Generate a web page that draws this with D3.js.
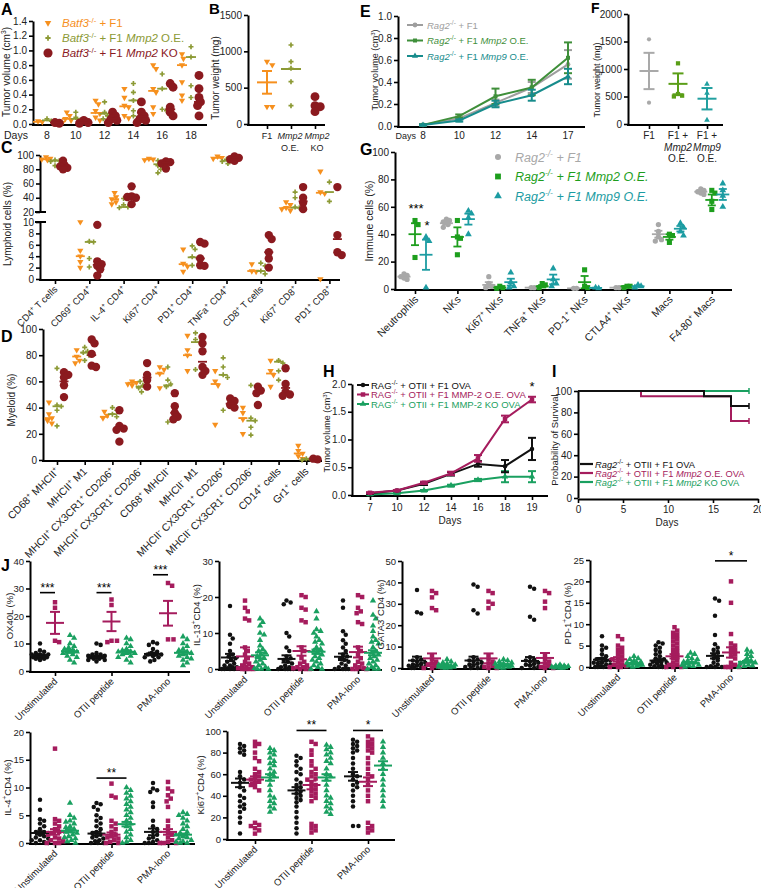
<!DOCTYPE html>
<html><head><meta charset="utf-8">
<script src="https://cdn.jsdelivr.net/npm/d3@7"></script>
<style>body{margin:0;background:#fff;}svg{display:block;}</style>
</head><body><script>
// ================= DATA =================
// Panel A
const A_days = [8,10,12,14,16,18];
const A_legend = ["<i>Batf3</i><sup>-/-</sup> + F1","<i>Batf3</i><sup>-/-</sup> + F1 <i>Mmp2</i> O.E.","<i>Batf3</i><sup>-/-</sup> + F1 <i>Mmp2</i> KO"];
const A_f1 = [[0.04,0.03],[0.16,0.11,0.07,0.05,0.02],[0.32,0.27,0.18,0.14,0.09,0.05],[0.48,0.36,0.25,0.23,0.11,0.08],[0.8,0.75,0.48,0.43,0.23,0.14],[0.95,0.89,0.8,0.57,0.39,0.32]];
const A_oe = [[0.07,0.04],[0.16,0.09,0.05],[0.3,0.16,0.11,0.07],[0.55,0.43,0.32,0.18,0.11],[0.68,0.48,0.2,0.18],[1.05,0.91,0.52,0.36]];
const A_ko = [[0.02,0.01],[0.05,0.02,0.01],[0.16,0.11,0.07,0.05,0.02],[0.3,0.16,0.11,0.07,0.05,0.02],[0.55,0.5,0.23,0.16,0.11],[0.66,0.48,0.36,0.3,0.25,0.11]];
const A_f1_mean = [0.03,0.07,0.15,0.24,0.45,0.8];
const A_oe_mean = [0.05,0.07,0.14,0.32,0.48,0.91];
const A_ko_mean = [0.02,0.02,0.07,0.1,0.2,0.3];
// Panel B
const B_cats = [["F1"],["<i>Mmp2</i>","O.E."],["<i>Mmp2</i>","KO"]];
const B_f1 = [858,812,238,238];
const B_oe = [1087,858,766,583,252];
const B_ko = [376,252,238,170];
const B_mean = [573,757,null];
const B_sem = [156,null,null];
// Panel C
const C_cats = ["CD4<sup>+</sup> T cells","CD69<sup>+</sup> CD4<sup>+</sup>","IL-4<sup>+</sup> CD4<sup>+</sup>","Ki67<sup>+</sup> CD4<sup>+</sup>","PD1<sup>+</sup> CD4<sup>+</sup>","TNFa<sup>+</sup> CD4<sup>+</sup>","CD8<sup>+</sup> T cells","Ki67<sup>+</sup> CD8<sup>+</sup>","PD1<sup>+</sup> CD8<sup>+</sup>"];
const C_f1 = [[97,95,94,93],[10,5,4,3,2],[47,41,38,34,31],[95,94,93],[5.2,2.7,2.2,1.3],[98,96,95],[2.6,1.4,1.3],[34,30,26,24,22],[77,48,46,0]];
const C_oe = [[93,92,91,85],[6.6,6.5,3.6,2.1],[39,30,27,26],[92,88,85,80,75],[5.8,5.2,3.9,2.4],[94,93,91,88],[2.8,2.3,1.4,0.9],[48,40,27,26],[62,35]];
const C_ko = [[92,86,84,82,80],[9.5,3.1,2.6,2.3,1.7,0.6],[56,42,41,40,31],[91,90,88,81],[6.5,6.2,3.6,2.4,2.3],[98,96,94,92],[7.7,7.0,4.7,3.6,2.0],[55,40,33,24],[55,7.7,4.7,4.2]];
const C_f1_mean = [94,4,38,94,2.6,96,1.4,26,47];
const C_oe_mean = [92,6.5,27,87,3.8,92,1.4,26,48];
const C_ko_mean = [83,2.5,41,89,3.6,94,4.7,35,7];
// Panel D
const D_cats = ["CD68<sup>+</sup> MHCII<sup>+</sup>","MHCII<sup>+</sup> M1","MHCII<sup>+</sup> CX3CR1<sup>+</sup> CD206<sup>+</sup>","MHCII<sup>+</sup> CX3CR1<sup>+</sup> CD206<sup>-</sup>","CD68<sup>+</sup> MHCII<sup>-</sup>","MHCII<sup>-</sup> M1","MHCII<sup>-</sup> CX3CR1<sup>+</sup> CD206<sup>+</sup>","MHCII<sup>-</sup> CX3CR1<sup>+</sup> CD206<sup>-</sup>","CD14<sup>+</sup> cells","Gr1<sup>+</sup> cells"];
const D_f1 = [[44,35,32,30,28],[84,79,76,74],[37,34,32],[60,59,58,57],[71,69,66,55],[95,84,80,68],[68,60,57,27],[40,36,31,20],[76,68,65,56],[11,7,5,3,1]];
const D_oe = [[70,42,41,38,26],[86,83,82,80,76],[40,38,35,33],[60,57,55,52],[71,61,58,56,29],[97,92,90,69],[78,71,65,63,38],[57,32,30,25,19],[76,74,68,61],[1,0.5,0]];
const D_ko = [[67,65,63,57,48],[92,89,81,72,71],[38,26,24,23,14],[74,65,61,56],[51,41,36,33,31],[94,89,83,71,68,65],[47,45,42,40],[56,53,51,42],[70,58,52,50,49],[1,0.5]];
const D_f1_mean = [32,79,33,59,66,80,58,32,66,5];
const D_oe_mean = [41,82,35,56,57,90,65,30,75,0.5];
const D_ko_mean = [60,80,25,63,36,75,43,52,55,1];
// Panel E
const E_days = [8,10,12,14,17];
const E_legend = ["<i>Rag2</i><sup>-/-</sup> + F1","<i>Rag2</i><sup>-/-</sup> + F1 <i>Mmp2</i> O.E.","<i>Rag2</i><sup>-/-</sup> + F1 <i>Mmp9</i> O.E."];
const E_f1 = [0.01,0.07,0.21,0.35,0.56];
const E_mmp2 = [0.01,0.09,0.27,0.35,0.62];
const E_mmp9 = [0.01,0.05,0.2,0.28,0.45];
const E_f1_sem = [0.005,0.01,0.03,0.05,0.13];
const E_mmp2_sem = [0.005,0.015,0.07,0.07,0.14];
const E_mmp9_sem = [0.005,0.01,0.03,0.05,0.07];
// Panel F
const F_cats = [["F1"],["F1 +","<i>Mmp2</i>","O.E."],["F1 +","<i>Mmp9</i>","O.E."]];
const F_f1 = [1539,388];
const F_mmp2 = [1103,545,515,500];
const F_mmp9 = [727,560,73];
const F_mean = [964,730,460];
const F_sem = [330,190,195];
// Panel G
const G_cats = ["Neutrophils","NKs","Ki67<sup>+</sup> NKs","TNFa<sup>+</sup> NKs","PD-1<sup>+</sup> NKs","CTLA4<sup>+</sup> NKs","Macs","F4-80<sup>+</sup> Macs"];
const G_legend = ["<i>Rag2<sup>-/-</sup> + F1</i>","<i>Rag2<sup>-/-</sup> + F1 Mmp2 O.E.</i>","<i>Rag2<sup>-/-</sup> + F1 Mmp9 O.E.</i>"];
const G_f1 = [[11,10,9,8,7],[51,50,49,47,45],[9,4,2,1],[1,1],[0.5,0.5],[1,1],[47,42,38,36,35],[73,72,71,70,69]];
const G_mmp2 = [[50,47,23],[50,38,37,25],[2,1,0.5],[4,3,1],[14,2,1],[2,2,1],[40,39,34],[72,70,64,58]];
const G_mmp9 = [[38,35,1],[57,55,52,40],[12,5,2,1],[15,7,4,2],[1,0.5],[3,2,1],[48,45,42,39],[77,72,68,60]];
const G_f1_mean = [9,48,3,1,0.5,1,40,71];
const G_mmp2_mean = [40,38,1,2,5,2,38,65];
const G_mmp9_mean = [25,51,5,7,0.8,2,44,69];
const G_f1_sem = [0.8,1,2,0,0,0,2.5,0.8];
const G_mmp2_sem = [8,7,0.4,0.9,4.5,0.3,2,4];
const G_mmp9_sem = [11,4,2.5,3.5,0.2,0.5,2,4];
// Panel H
const H_days = [7,10,12,14,16,18,19];
const H_legend = ["RAG<sup>-/-</sup> + OTII + F1 OVA","RAG<sup>-/-</sup> + OTII + F1 MMP-2 O.E. OVA","RAG<sup>-/-</sup> + OTII + F1 MMP-2 KO OVA"];
const H_ctrl = [0.03,0.08,0.2,0.38,0.56,0.52,0.83];
const H_oe = [0.04,0.08,0.22,0.39,0.66,1.37,1.72];
const H_ko = [0.01,0.03,0.08,0.17,0.27,0.33,0.33];
const H_ctrl_sem = [0.01,0.01,0.02,0.03,0.05,0.11,0.2];
const H_oe_sem = [0.01,0.01,0.02,0.03,0.06,0.06,0.05];
const H_ko_sem = [0.005,0.005,0.01,0.015,0.02,0.1,0.1];
// Panel I
const I_legend = ["<i>Rag2</i><sup>-/-</sup> + OTII + F1 OVA","<i>Rag2</i><sup>-/-</sup> + OTII + F1 <i>Mmp2</i> O.E. OVA","<i>Rag2</i><sup>-/-</sup> + OTII + F1 <i>Mmp2</i> KO OVA"];
const I_ctrl_days = [0,14,17,19], I_ctrl = [100,95,86,86];
const I_oe_days = [0,7,17,19], I_oe = [100,95,72,72];
const I_ko_days = [0,19], I_ko = [100,100];
// Panel J
const J_cats = ["Unstimulated","OTII peptide","PMA-Iono"];
const J_OX40L_pts = [
 [[10,7.5,7,6.5,6,6,5.5,5.5,5,5,5,4.5,4.5,4,6,5],[25,23,11,10.5],[13,12,10,9,8.5,8,7.5,7,7,6.5,6,5.5,5,4,3]],
 [[10,9.5,6.5,6,5.5,5,5,5,4.5,4.5,4,4,3.5,6,5.5],[26,24,11,11,10.5],[12,11.5,10,9,8,7.5,7,7,6.5,6.5,6,5.5,5,4,3]],
 [[10.5,10,9.5,8,7,6.5,6,6,5.5,5,4,3.5,6,5],[32,31,11.5,11.5],[12.5,11.5,10,9,8,7.5,7,6.5,6,5.5,5,4.5,4,3,2]]];
const J_OX40L_mean = [[5.7,17.5,7.2],[5.2,18,7.0],[6.2,21,6.6]];
const J_OX40L_sem = [[0.4,4,0.6],[0.4,3.5,0.5],[0.5,4.5,0.6]];
const J_IL13_pts = [
 [[17.5,9.5,8.5,7,5,4,3.5,3,2.5,2,1.5,1,1,0.5,0.5,0.2,0,0,0,0],[19,17,16,14,13.5,6,5,4,3,2,1.5,1,0.5,0.5,0.2,0,0,0,0],[14,13,12,10,9.5,8,6.5,5.5,5,4.5,4,3.5,3,2.5,2,1.5,1,0.5,0.2,0,0,0]],
 [[19,18.5,18,10,9,6,5,3.5,3,2.5,2,1.5,1,0.5,0.5,0,0,0,0,0],[20.5,20,17,16.5,13.5,13,6,5,3,2,1.5,1,0.5,0.5,0.2,0,0,0],[16,14,11,10.5,10,9,8,7.5,7,6,5.5,5,4.5,4,3.5,3,2.5,2,1.5,1,0.5,0,0]],
 [[19,17,10.5,9.5,8,7,6,5,4,3.5,3,2.5,2,1.5,1,0.5,0,0,0,0],[20.5,20,17,16,15.5,13,12.5,6,5,4,3,2,1.5,1,0.5,0.2,0,0,0],[19,15,14,12,10.5,9,8,7.5,7,6,5,4.5,4,3.5,3,2.5,2,1.5,1,0.5,0,0,0]]];
const J_IL13_mean = [[3.2,3.5,3.8],[2.8,5,4.8],[3.4,4.7,4.5]];
const J_IL13_sem = [[1,2.5,0.8],[1,1.3,0.6],[0.9,1.5,0.7]];
const J_GATA3_pts = [
 [[36.5,26,25.5,5,4,3.5,3,2.5,2,1.5,1,1,0.5,0.5,0,0],[36,35,33,28,27,6,4,3,2,1.5,1,0.5,0,0],[4,3,2.5,2,1.5,1.5,1,1,1,0.5,0.5,0.5,0.2,0.2,0]],
 [[39,38,27,25.5,5,4,3.5,3,2.5,2,1.5,1,0.5,0.5,0,0],[36,35,31,30,28,6,4,3,2,1,0.5,0,0],[4,3.5,3,2.5,2,2,1.5,1.5,1,1,1,0.5,0.5,0.2,0]],
 [[38,37,24,22.5,5,4,3.5,3,2.5,2,1.5,1,0.5,0,0],[36,35,31,28,6,4,3,2,1,0.5,0,0],[1.5,1,1,0.8,0.5,0.5,0.5,0.3,0.2,0,0]]];
const J_GATA3_mean = [[3.5,4.5,1],[3.5,4.5,1.5],[3.3,4.7,0.7]];
const J_GATA3_sem = [[1.8,2.3,0.2],[1.8,2.3,0.3],[1.8,2.3,0.2]];
const J_PD1_pts = [
 [[7.2,5,4.5,4,3,2.5,2,1.8,1.5,1.5,1,1,0.8,0.5,0.5,0.2,0,0,0],[7.2,6.5,5,4.5,4,3.5,3,2.5,2,1.8,1.5,1,0.5,0.5,0.2,0,0,0],[2.5,2,1.8,1.5,1.2,1,1,0.8,0.8,0.5,0.5,0.3,0.2,0]],
 [[5.8,5.5,5,4.5,4,3.5,3,2.5,2,1.8,1.5,1.2,1,0.8,0.5,0.5,0.2,0,0,0],[9.3,8.5,8,7.5,7,6.5,6,5.5,5,4.5,4,3.5,3,2.5,2,1.5,1,0.5,0.5,0,0,0],[3.3,3,2.5,2,1.8,1.5,1.2,1,1,0.8,0.5,0.5,0.3,0.2,0]],
 [[16,15.5,12,7.5,5.3,4.5,4,3.5,3,2.5,2,1.5,1,0.5,0.2,0,0,0],[20,15,7.7,5.5,5,4.5,4,3.5,3,2.5,2,1,0.5,0,0,0,0],[4,3.5,3,2.5,2,1.5,1.2,1,0.8,0.5,0.3,0.2,0]]];
const J_PD1_mean = [[1.7,1.8,0.8],[1.5,2.5,1],[2.6,3.4,1.2]];
const J_PD1_sem = [[0.4,0.5,0.15],[0.35,0.5,0.15],[0.6,1.2,0.2]];
const J_IL4_pts = [
 [[7.8,6,4.3,4,3.5,3,2.5,2,2,1.8,1.5,1.2,1,0.8,0.5,0.5,0.2,0,0],[17,4.3,4,3.5,3,2.5,2,1.8,1.5,1,0.8,0.5,0.3,0,0,0],[7.2,5,4.5,4,3.8,3.5,3,2.8,2.5,2.2,2,1.8,1.5,1.2,1,0.8,0.5,0.3,0]],
 [[7.2,7,6.5,6,5,4.5,4,3.5,3,2.5,2,1.8,1.5,1.2,1,0.8,0.5,0.3,0,0,0],[10.7,8.5,8.2,4,3.5,3,2.5,2,1.5,1.2,1,0.8,0.5,0.2,0,0],[10,9.5,9,8.5,8,7.5,7,6.5,6,5.5,5,4.5,4,3.5,3,2.5,2,1.5,1,0.5,0.2,0]],
 [[10.8,9.8,9.5,9.2,7.3,6.5,4,3,2.5,2,1.5,1,0.8,0.5,0.2,0,0,0],[11,9.8,9.3,8.6,8,7.5,6.5,4,3,2,1.5,1,0.5,0.2,0,0,0],[5.5,5.2,5,4.5,4,3.5,3,2.5,2,1.8,1.5,1.2,1,0.8,0.5,0.3,0.2,0,0]]];
const J_IL4_mean = [[1.8,2,2.2],[1.7,1.5,3.4],[2,2,1.5]];
const J_IL4_sem = [[0.3,0.5,0.3],[0.3,0.4,0.4],[0.6,0.5,0.2]];
const J_KI67_pts = [
 [[88,86,84,82,80,78,62,58,55,52,48,45,40,38,35,32,30,28,25,20,15,5],[90,88,86,80,75,72,65,62,60,58,56,55,53,52,50,48,45,15,13,12,10,8,5],[84,82,80,78,75,72,70,68,65,62,60,58,55,50,45,40,38,35,33,30,28,25]],
 [[77,75,72,68,65,62,60,55,52,50,48,46,44,42,40,38,36,34,30,25,20,15,10,5],[90,88,82,78,72,68,65,62,60,58,56,55,52,50,48,46,44,42,40,38,35,14,12,10,8,6],[87,85,83,80,78,75,72,70,65,60,58,55,50,45,40,38,35,33,30,28,25,23]],
 [[92,90,88,86,84,82,80,75,70,65,60,58,55,52,50,48,45,40,35,30,12,12],[95,92,90,88,86,84,82,80,75,70,65,60,58,55,50,45,40,35,15,12,10,8,6],[90,85,80,75,70,65,60,55,50,45,40,35,30]]];
const J_KI67_mean = [[52,55,57],[45,50,57],[58,53,68]];
const J_KI67_sem = [[4,3,3],[3,4,3],[4,4,4]];

// ================= DRAWING =================
const FONT = '"Liberation Sans", Arial, Helvetica, sans-serif';
const svg = d3.select("body").append("svg").attr("width",761).attr("height",888)
  .attr("font-family",FONT).style("background","#fff");

function rich(sel, str, fs){
  const parts = str.split(/(<\/?i>|<\/?sup>)/);
  let it=false, sup=false, prev=false;
  for(const p of parts){
    if(p==="<i>"){it=true;continue;} if(p==="</i>"){it=false;continue;}
    if(p==="<sup>"){sup=true;continue;} if(p==="</sup>"){sup=false;continue;}
    if(!p) continue;
    const t = sel.append("tspan").text(p);
    if(it) t.attr("font-style","italic");
    if(sup){ t.attr("font-size",fs*0.68); if(!prev) t.attr("dy",-fs*0.38); }
    else if(prev) t.attr("dy",fs*0.38);
    prev = sup;
  }
}
function txt(x,y,str,o={}){
  const fs=o.fs||10;
  const t=svg.append("text").attr("x",x).attr("y",y).attr("font-size",fs)
    .attr("fill",o.fill||"#222").attr("text-anchor",o.anchor||"start");
  if(o.rotate!=null) t.attr("transform",`rotate(${o.rotate},${x},${y})`);
  if(o.bold) t.attr("font-weight","bold");
  rich(t,str,fs); return t;
}
function panelLabel(x,y,s,fs){ txt(x,y,s,{fs:fs||16,bold:true,fill:"#000"}); }
function yLabel(x,cy,s,fs){ txt(x,cy,s,{fs:fs||10,anchor:"middle",rotate:-90}); }
function yAxis(x,scale,ticks,fmt,fs){
  const g=svg.append("g").attr("transform",`translate(${x},0)`)
    .call(d3.axisLeft(scale).tickValues(ticks).tickFormat(fmt||d3.format("")).tickSize(4).tickSizeOuter(0));
  g.attr("font-family",FONT).attr("font-size",fs||10);
  g.select(".domain").attr("stroke","#000").attr("stroke-width",2);
  g.selectAll(".tick line").attr("stroke","#000").attr("stroke-width",1.6);
  g.selectAll(".tick text").attr("fill","#222").attr("x",-6);
  return g;
}
function xAxis(x0,x1,y,scale,ticks){
  const s = scale || d3.scaleLinear().domain([0,1]).range([x0,x1]);
  const g=svg.append("g").attr("transform",`translate(0,${y})`)
    .call(d3.axisBottom(s).tickValues(ticks||[]).tickFormat("").tickSize(ticks?4:0).tickSizeOuter(0));
  g.select(".domain").remove();
  g.selectAll(".tick line").attr("stroke","#000").attr("stroke-width",1.6);
  svg.append("line").attr("x1",x0-1).attr("x2",x1).attr("y1",y).attr("y2",y).attr("stroke","#000").attr("stroke-width",2);
}
const SYM={circle:d3.symbolCircle,square:d3.symbolSquare,tri:d3.symbolTriangle,triDown:d3.symbolTriangle,cross:d3.symbolCross};
function mark(g,type,x,y,size,color){
  g.append("path").attr("d",d3.symbol(SYM[type],size)()).attr("fill",color)
   .attr("transform",`translate(${x},${y})`+(type==="triDown"?" rotate(180)":""));
}
function swarm(vals,cx,ys,r,maxOff){
  const pts=vals.map(v=>({v,y:ys(v)})).sort((a,b)=>a.y-b.y);
  const placed=[];
  const cands=[0]; for(let k=1;k<80;k++){const o=Math.ceil(k/2)*r*0.55*(k%2?1:-1); if(Math.abs(o)>maxOff)break; cands.push(o);}
  pts.forEach(p=>{
    let x=null;
    for(const o of cands){const c=cx+o; if(placed.every(q=>(q.x-c)**2+(q.y-p.y)**2>=(1.7*r)**2)){x=c;break;}}
    if(x===null){let bd=-1; for(const o of cands){const c=cx+o; const d=Math.min(...placed.map(q=>(q.x-c)**2+(q.y-p.y)**2)); if(d>bd){bd=d;x=c;}}}
    placed.push({x,y:p.y});
  });
  return placed;
}
function meanBar(x,ys,mean,sem,color,w,cw,sw){
  const g=svg.append("g").attr("stroke",color).attr("stroke-width",sw||1.8);
  g.append("line").attr("x1",x-w/2).attr("x2",x+w/2).attr("y1",ys(mean)).attr("y2",ys(mean));
  if(sem){
    const lo=Math.max(ys.domain()[0],mean-sem), hi=mean+sem;
    g.append("line").attr("x1",x).attr("x2",x).attr("y1",ys(lo)).attr("y2",ys(hi));
    [lo,hi].forEach(v=>g.append("line").attr("x1",x-cw/2).attr("x2",x+cw/2).attr("y1",ys(v)).attr("y2",ys(v)));
  }
}
function rotLabel(x,y,s,fs){ txt(x,y,s,{fs:fs||10,anchor:"end",rotate:-45}); }
function sigBar(x0,x1,y,label){
  svg.append("line").attr("x1",x0).attr("x2",x1).attr("y1",y).attr("y2",y).attr("stroke","#000").attr("stroke-width",1.6);
  txt((x0+x1)/2,y-1,label,{fs:12,anchor:"middle",fill:"#000"});
}

// colors
const cOr="#f6901e", cOl="#8c9a35", cRd="#8b1a1f";
const eGr="#9e9e9e", eGn="#3f8f3a", eTl="#178c8c";
const fGr="#a9a9a9", fGn="#5a9e17", fTl="#22a0a0";
const gGr="#a8a8a8", gGn="#1d9e1d", gTl="#1c9ca2";
const jBk="#111111", jMg="#a51c5d", jGn="#1aa060";
const ABshape=[{t:"triDown",s:17,c:cOr},{t:"cross",s:14,c:cOl},{t:"circle",s:62,c:cRd}];
const CDshape=[{t:"triDown",s:17,c:cOr},{t:"cross",s:14,c:cOl},{t:"circle",s:55,c:cRd}];

function dotGroups(sets,means,cxs,offs,ys,shapes,r,maxOff,mw){
  sets.forEach((set,gi)=>{
    const g=svg.append("g");
    set.forEach((vals,ci)=>{
      const cx=cxs[ci]+offs[gi];
      swarm(vals,cx,ys,r,maxOff).forEach(p=>mark(g,shapes[gi].t,p.x,p.y,shapes[gi].s,shapes[gi].c));
      if(means && means[gi] && means[gi][ci]!=null) meanBar(cx,ys,means[gi][ci],null,shapes[gi].c,mw,0,1.8);
    });
  });
}

// ---------- A ----------
panelLabel(1,15,"A");
{
  const ys=d3.scaleLinear().domain([0,1.4]).range([124,21]);
  const xs=d3.scalePoint().domain(A_days).range([47,191]);
  yAxis(33,ys,[0,0.2,0.4,0.6,0.8,1.0,1.2,1.4],d3.format(".1f"));
  xAxis(33,207,125);
  A_days.forEach(d=>txt(xs(d),139,String(d),{anchor:"middle",fs:10.5}));
  txt(4,139,"Days",{fs:10.5});
  yLabel(10,72,"Tumor volume (cm<sup>3</sup>)",10);
  dotGroups([A_f1,A_oe,A_ko],[A_f1_mean,A_oe_mean,A_ko_mean],A_days.map(d=>xs(d)),[-9,0,8],ys,ABshape,2.6,5,10);
  const lc=[cOr,cOl,cRd];
  A_legend.forEach((s,i)=>{ const g=svg.append("g"); mark(g,ABshape[i].t,48,23+15*i,ABshape[i].s*(i==2?1.05:1.1),ABshape[i].c); txt(62,27+15*i,s,{fs:11.5,fill:lc[i]}); });
}
// ---------- B ----------
panelLabel(209,14,"B",15);
{
  const ys=d3.scaleLinear().domain([0,1500]).range([124,15]);
  const xs=d3.scalePoint().domain([0,1,2]).range([267,315]);
  yAxis(248,ys,[0,500,1000,1500],null,10);
  xAxis(248,325,125,xs,[0,1,2]);
  yLabel(219,78,"Tumor weight (mg)",10);
  B_cats.forEach((l,i)=>l.forEach((s,k)=>txt(xs(i)+[0,-1,2][i],139+12*k,s,{anchor:"middle",fs:9})));
  dotGroups([[B_f1],[B_oe],[B_ko]],null,[xs(0),xs(1),xs(2)].map(()=>0),[xs(0),xs(1),xs(2)],ys,ABshape,3.2,7,0);
  meanBar(xs(0),ys,B_mean[0],B_sem[0],cOr,20,10,2);
  meanBar(xs(1),ys,B_mean[1],null,cOl,20,10,2);
}
// ---------- C ----------
panelLabel(1,153,"C");
{
  const ys=d3.scaleLinear().domain([0,10,20,100]).range([279,222,212,155]);
  const yLow=d3.scaleLinear().domain([0,10]).range([279,222]);
  const yUp=d3.scaleLinear().domain([20,100]).range([212,155]);
  yAxis(40,yLow,[0,2,4,6,8,10],null,10);
  yAxis(40,yUp,[20,40,60,80,100],null,10);
  [212,222].forEach(y=>svg.append("line").attr("x1",35).attr("x2",46).attr("y1",y).attr("y2",y).attr("stroke","#000").attr("stroke-width",2));
  const cx=C_cats.map((c,i)=>55+34.3*i);
  const xs=d3.scalePoint().domain(d3.range(9)).range([cx[0],cx[8]]);
  xAxis(40,340,280,xs,d3.range(9));
  yLabel(11,224,"Lymphoid cells (%)",10);
  C_cats.forEach((s,i)=>rotLabel(xs(i)+3,290,s,9.5));
  dotGroups([C_f1,C_oe,C_ko],[C_f1_mean,C_oe_mean,C_ko_mean],cx,[-9,0,8],ys,CDshape,2.6,5,9);
}
// ---------- D ----------
panelLabel(1,342,"D");
{
  const ys=d3.scaleLinear().domain([0,100]).range([460,329]);
  const cx=D_cats.map((c,i)=>57+27.7*i);
  const xs=d3.scalePoint().domain(d3.range(10)).range([cx[0],cx[9]]);
  yAxis(43,ys,[0,20,40,60,80,100],null,10);
  xAxis(43,322,461,xs,d3.range(10));
  yLabel(15,400,"Myeloid (%)",10);
  D_cats.forEach((s,i)=>rotLabel(xs(i)+3,472,s,10.5));
  dotGroups([D_f1,D_oe,D_ko],[D_f1_mean,D_oe_mean,D_ko_mean],cx,[-8,0,7],ys,CDshape,2.6,5,9);
}
// ---------- E ----------
panelLabel(360,17,"E");
{
  const ys=d3.scaleLinear().domain([0,1]).range([126,16]);
  const xs=d3.scalePoint().domain(E_days).range([423,568]);
  yAxis(398,ys,[0,0.2,0.4,0.6,0.8,1.0],d3.format(".1f"),10);
  xAxis(398,585,127);
  E_days.forEach(d=>txt(xs(d),139,String(d),{anchor:"middle",fs:10}));
  txt(416,139,"Days",{fs:9,anchor:"end"});
  yLabel(378,70,"Tumor volume (cm<sup>3</sup>)",9);
  const series=[[E_f1,E_f1_sem,eGr,"circle",18],[E_mmp2,E_mmp2_sem,eGn,"square",16],[E_mmp9,E_mmp9_sem,eTl,"tri",16]];
  series.forEach(([v,s,c,t,sz])=>{
    const g=svg.append("g");
    g.append("path").datum(v).attr("fill","none").attr("stroke",c).attr("stroke-width",2)
      .attr("d",d3.line().x((d,i)=>xs(E_days[i])).y(d=>ys(d)));
    v.forEach((d,i)=>{const x=xs(E_days[i]);
      [[d-s[i],d+s[i]]].forEach(([lo,hi])=>{
        g.append("line").attr("x1",x).attr("x2",x).attr("y1",ys(lo)).attr("y2",ys(hi)).attr("stroke",c).attr("stroke-width",2);
        [lo,hi].forEach(u=>g.append("line").attr("x1",x-4).attr("x2",x+4).attr("y1",ys(u)).attr("y2",ys(u)).attr("stroke",c).attr("stroke-width",2));
      });
      mark(g,t,x,ys(d),sz,c);});
  });
  E_legend.forEach((s,i)=>{const y=25+15.5*i; const c=series[i][2];
    svg.append("line").attr("x1",407).attr("x2",423).attr("y1",y).attr("y2",y).attr("stroke",c).attr("stroke-width",2);
    mark(svg,series[i][3],415,y,series[i][4],c);
    txt(427,y+3.5,s,{fs:9.5,fill:c});});
}
// ---------- F ----------
panelLabel(591,13,"F",14);
{
  const ys=d3.scaleLinear().domain([0,2000]).range([124,14]);
  const xs=d3.scalePoint().domain([0,1,2]).range([649,707]);
  yAxis(628,ys,[0,500,1000,1500,2000],null,10);
  xAxis(628,723,125,xs,[0,1,2]);
  yLabel(600,80,"Tumor weight (mg)",9);
  F_cats.forEach((l,i)=>l.forEach((s,k)=>txt(xs(i),139+11.5*k,s,{anchor:"middle",fs:10})));
  const sh=[{t:"circle",s:14,c:fGr},{t:"square",s:18,c:fGn},{t:"tri",s:14,c:fTl}];
  [F_f1,F_mmp2,F_mmp9].forEach((v,i)=>{const g=svg.append("g"); swarm(v,xs(i),ys,2.5,5).forEach(p=>mark(g,sh[i].t,p.x,p.y,sh[i].s,sh[i].c));
    meanBar(xs(i),ys,F_mean[i],F_sem[i],sh[i].c,19,11,2);});
}
// ---------- G ----------
panelLabel(360,155,"G");
{
  const ys=d3.scaleLinear().domain([0,100]).range([289,152]);
  const cx=G_cats.map((c,i)=>415+42.4*i);
  const xs=d3.scalePoint().domain(d3.range(8)).range([cx[0],cx[7]]);
  yAxis(395,ys,[0,20,40,60,80,100],null,10);
  xAxis(395,732,290,xs,d3.range(8));
  yLabel(373,221,"Immune cells (%)",10.5);
  G_cats.forEach((s,i)=>rotLabel(xs(i)+4,300,s,10.5));
  const sh=[{t:"circle",s:22,c:gGr},{t:"square",s:26,c:gGn},{t:"tri",s:20,c:gTl}];
  const sets=[G_f1,G_mmp2,G_mmp9], means=[G_f1_mean,G_mmp2_mean,G_mmp9_mean], sems=[G_f1_sem,G_mmp2_sem,G_mmp9_sem];
  sets.forEach((set,gi)=>{const g=svg.append("g");
    set.forEach((vals,ci)=>{const x=cx[ci]+[-11,0,11][gi];
      swarm(vals,x,ys,2.8,4).forEach(p=>mark(g,sh[gi].t,p.x,p.y,sh[gi].s,sh[gi].c));
      meanBar(x,ys,means[gi][ci],sems[gi][ci],sh[gi].c,13,8,1.8);});});
  txt(416,213,"***",{fs:13,anchor:"middle",fill:"#000"});
  txt(427,230,"*",{fs:13,anchor:"middle",fill:"#000"});
  const lc=[gGr,gGn,gTl];
  G_legend.forEach((s,i)=>{const y=157+19.5*i; mark(svg,sh[i].t,498,y,sh[i].s*1.3,lc[i]); txt(515,y+4.5,s,{fs:12.5,fill:lc[i]});});
}
// ---------- H ----------
panelLabel(323,377,"H");
{
  const ys=d3.scaleLinear().domain([0,2]).range([495,384]);
  const xs=d3.scalePoint().domain(H_days).range([370,532]);
  yAxis(352,ys,[0,0.5,1,1.5,2],d3.format(".1f"),10);
  xAxis(352,548,496,xs,H_days);
  H_days.forEach(d=>txt(xs(d),511,String(d),{anchor:"middle",fs:10}));
  txt(450,524,"Days",{anchor:"middle",fs:10});
  yLabel(330,432,"Tumor volume (cm<sup>3</sup>)",9);
  const series=[[H_ko,H_ko_sem,jGn,"tri",18],[H_ctrl,H_ctrl_sem,jBk,"circle",16],[H_oe,H_oe_sem,jMg,"square",20]];
  series.forEach(([v,s,c,t,sz])=>{const g=svg.append("g");
    g.append("path").datum(v).attr("fill","none").attr("stroke",c).attr("stroke-width",2)
      .attr("d",d3.line().x((d,i)=>xs(H_days[i])).y(d=>ys(d)));
    v.forEach((d,i)=>{const x=xs(H_days[i]);
      g.append("line").attr("x1",x).attr("x2",x).attr("y1",ys(Math.max(0,d-s[i]))).attr("y2",ys(d+s[i])).attr("stroke",c).attr("stroke-width",2);
      [Math.max(0,d-s[i]),d+s[i]].forEach(u=>g.append("line").attr("x1",x-4).attr("x2",x+4).attr("y1",ys(u)).attr("y2",ys(u)).attr("stroke",c).attr("stroke-width",2));
      mark(g,t,x,ys(d),sz,c);});});
  const lser=[series[1],series[2],series[0]];
  H_legend.forEach((s,i)=>{const y=385+9.5*i; const c=lser[i][2];
    svg.append("line").attr("x1",357).attr("x2",369).attr("y1",y).attr("y2",y).attr("stroke",c).attr("stroke-width",2);
    mark(svg,lser[i][3],363,y,lser[i][4],c);
    txt(371,y+3.5,s,{fs:9.5,fill:c});});
  txt(532,391,"*",{fs:13,anchor:"middle",fill:"#000"});
}
// ---------- I ----------
panelLabel(552,377,"I");
{
  const xs=d3.scaleLinear().domain([0,20]).range([578,758]);
  const ys=d3.scaleLinear().domain([0,100]).range([498,391]);
  yAxis(578,ys,[0,20,40,60,80,100],null,10);
  svg.append("g").attr("transform","translate(0,499)").call(d3.axisBottom(xs).tickValues([0,5,10,15,20]).tickSize(4).tickSizeOuter(0))
    .call(g=>{g.attr("font-family",FONT).attr("font-size",10); g.select(".domain").attr("stroke-width",2); g.selectAll(".tick line").attr("stroke-width",1.6); g.selectAll(".tick text").attr("fill","#222").attr("y",7);});
  txt(667,526,"Days",{anchor:"middle",fs:10});
  yLabel(558,440,"Probability of Survival",9.5);
  const line=d3.line().x(d=>xs(d[0])).y(d=>ys(d[1])).curve(d3.curveStepAfter);
  [[I_ko_days,I_ko,jGn],[I_oe_days,I_oe,jMg],[I_ctrl_days,I_ctrl,jBk]].forEach(([dd,v,c])=>{
    svg.append("path").datum(dd.map((d,i)=>[d,v[i]])).attr("fill","none").attr("stroke",c).attr("stroke-width",2).attr("d",line);
    svg.append("line").attr("x1",xs(19)).attr("x2",xs(19)).attr("y1",ys(v[v.length-1])-3).attr("y2",ys(v[v.length-1])+3).attr("stroke",c).attr("stroke-width",1.5);
  });
  const lc=[jBk,jMg,jGn];
  I_legend.forEach((s,i)=>{const y=464+9*i;
    svg.append("line").attr("x1",580).attr("x2",593).attr("y1",y).attr("y2",y).attr("stroke",lc[i]).attr("stroke-width",2.2);
    txt(595,y+3.5,s,{fs:9.3,fill:lc[i]});});
}
// ---------- J ----------
panelLabel(1,571,"J");
{
  const sh=[{t:"circle",s:16,c:jBk},{t:"square",s:20,c:jMg},{t:"tri",s:17,c:jGn}];
  const panels=[
    {pts:J_OX40L_pts,mean:J_OX40L_mean,sem:J_OX40L_sem,ax:30,y0:671,y1:561,max:40,ticks:[0,10,20,30,40],xEnd:190,c0:55,off:15,ylab:"OX40L (%)",lx:10,sig:[[0,0,1,28.5,"***"],[1,0,1,28.5,"***"],[2,0,1,35,"***"]]},
    {pts:J_IL13_pts,mean:J_IL13_mean,sem:J_IL13_sem,ax:219,y0:669,y1:561,max:30,ticks:[0,10,20,30],xEnd:382,c0:245,off:15,ylab:"IL-13<sup>+</sup>CD4 (%)",lx:197,sig:[]},
    {pts:J_GATA3_pts,mean:J_GATA3_mean,sem:J_GATA3_sem,ax:402,y0:668,y1:561,max:50,ticks:[0,10,20,30,40,50],xEnd:570,c0:432,off:15,ylab:"GATA3<sup>+</sup>CD4 (%)",lx:381,sig:[]},
    {pts:J_PD1_pts,mean:J_PD1_mean,sem:J_PD1_sem,ax:590,y0:667,y1:560,max:25,ticks:[0,5,10,15,20,25],xEnd:758,c0:618,off:16,ylab:"PD-1<sup>+</sup>CD4 (%)",lx:568,sig:[[2,0,2,24.8,"*"]]},
    {pts:J_IL4_pts,mean:J_IL4_mean,sem:J_IL4_sem,ax:30,y0:843,y1:732,max:20,ticks:[0,5,10,15,20],xEnd:195,c0:55,off:15,ylab:"IL-4<sup>+</sup>CD4 (%)",lx:8,sig:[[1,0,2,11.7,"**"]]},
    {pts:J_KI67_pts,mean:J_KI67_mean,sem:J_KI67_sem,ax:227,y0:839,y1:731,max:100,ticks:[0,20,40,60,80,100],xEnd:395,c0:255,off:15,ylab:"Ki67<sup>+</sup>CD4 (%)",lx:201,sig:[[1,0,2,100.5,"**"],[2,0,2,100.5,"*"]]}
  ];
  panels.forEach(P=>{
    const ys=d3.scaleLinear().domain([0,P.max]).range([P.y0,P.y1]);
    const xs=d3.scalePoint().domain(J_cats).range([P.c0,P.c0+2*56.5]);
    yAxis(P.ax,ys,P.ticks,null,9.5);
    xAxis(P.ax,P.xEnd,P.y0+1,xs,J_cats);
    yLabel(P.lx+3,(P.y0+P.y1)/2,P.ylab,9.5);
    J_cats.forEach(c=>rotLabel(xs(c)+3,P.y0+11,c,9.5));
    [0,1,2].forEach(gi=>{const g=svg.append("g");
      J_cats.forEach((c,ci)=>{const x=xs(c)+(gi-1)*P.off;
        swarm(P.pts[ci][gi],x,ys,2.5,9).forEach(p=>mark(g,sh[gi].t,p.x,p.y,sh[gi].s,sh[gi].c));});});
    [0,1,2].forEach(gi=>J_cats.forEach((c,ci)=>{const x=xs(c)+(gi-1)*P.off;
      meanBar(x,ys,P.mean[ci][gi],P.sem[ci][gi],sh[gi].c,18,10,2);}));
    P.sig.forEach(([ci,a,b,v,l])=>{const c=J_cats[ci]; sigBar(xs(c)+(a-1)*P.off,xs(c)+(b-1)*P.off,ys(v),l);});
  });
}
</script></body></html>
